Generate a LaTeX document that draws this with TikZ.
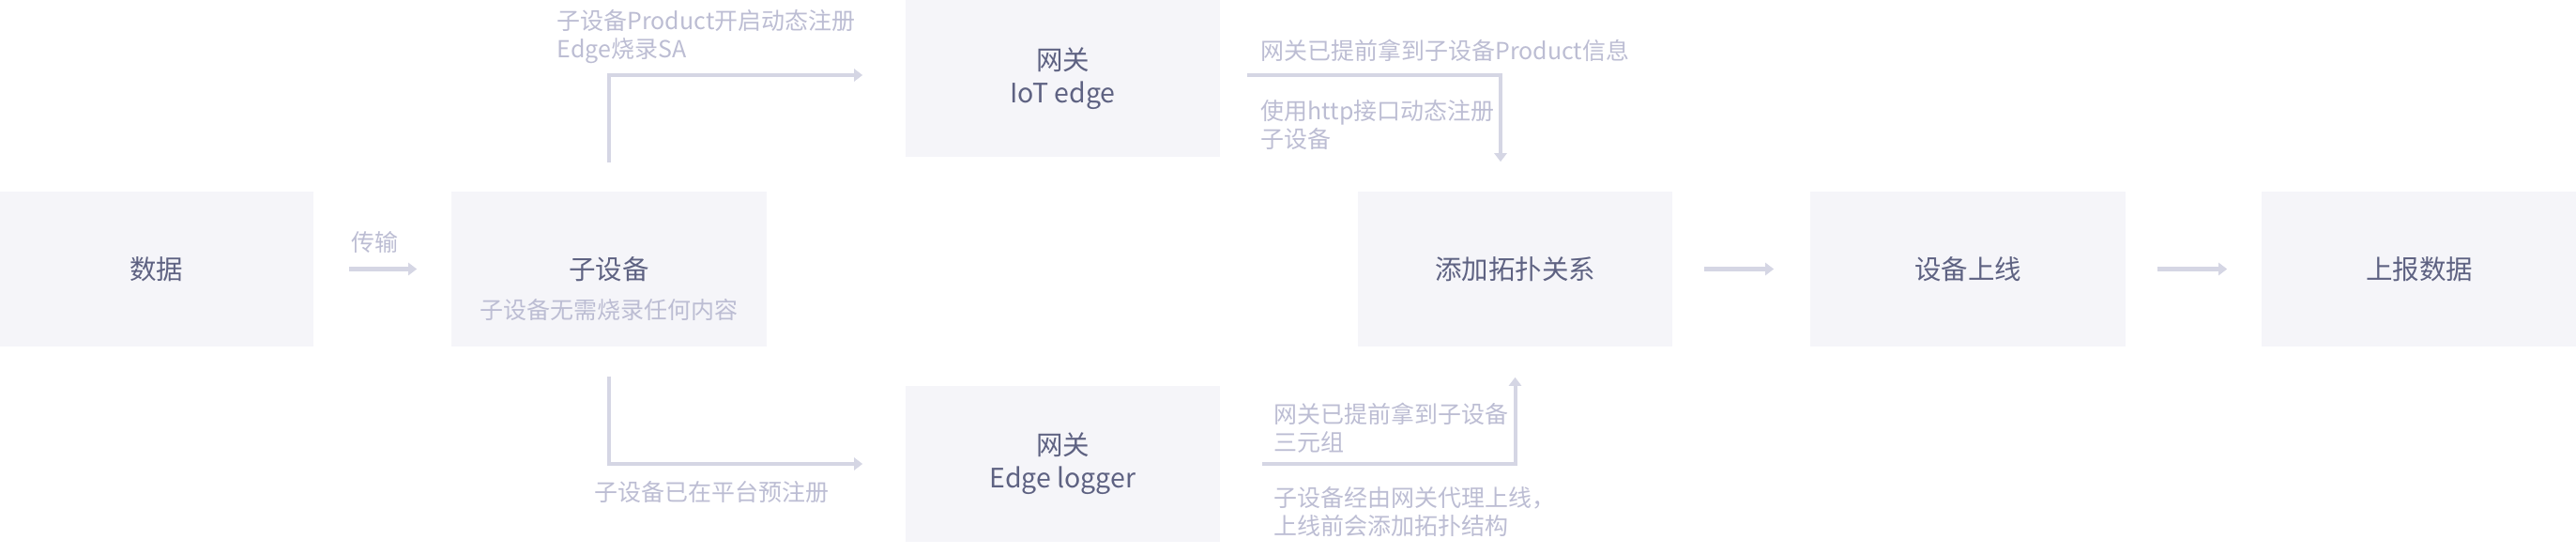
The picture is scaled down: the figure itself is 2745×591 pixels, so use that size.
\documentclass[tikz,border=0pt]{standalone}
\usepackage{fontspec}
\setmainfont{Noto Sans CJK SC}
\usepackage{xcolor}
\usepackage{tikz}
\usetikzlibrary{arrows.meta}
\definecolor{boxfill}{HTML}{F5F5F9}
\definecolor{boxtext}{HTML}{5E6282}
\definecolor{notetext}{HTML}{BCBDD3}
\definecolor{flowline}{HTML}{D5D6E4}

\begin{document}
\begin{tikzpicture}[x=0.01cm, y=-0.01cm,
		box/.style={rectangle, fill=boxfill, minimum width=3.35cm, minimum height=1.64cm, inner sep=0pt, align=center, text=boxtext, font=\fontsize{8.1pt}{10pt}\selectfont},
		note/.style={anchor=west, align=left, inner sep=0pt, text=notetext, font=\fontsize{7.1pt}{8.5pt}\selectfont},
		flow/.style={draw=flowline, line width=0.04cm, -{Triangle[length=0.09cm, width=0.13cm]}}]
			\useasboundingbox (0,0) rectangle (2745,591);
			% Boxes
			\node[box] (data) at (166.5,286.5) {数据};
			\node[box] (sub) at (649,286.5) {子设备};
			\node[box, minimum height=1.67cm] (iot) at (1132.5,83.5) {网关\\IoT edge};
			\node[box, minimum height=1.66cm] (logger) at (1132.5,494) {网关\\Edge logger};
			\node[box] (topo) at (1614.5,286.5) {添加拓扑关系};
			\node[box] (online) at (2097,286.5) {设备上线};
			\node[box] (report) at (2578,286.5) {上报数据};
			\node[note, anchor=center] (subnote) at (649,330) {子设备无需烧录任何内容};
			% Labels
			\node[note] (ltrans) at (374,258) {传输};
			\node[note] (lsa) at (593,39) {子设备Product开启动态注册\\Edge烧录SA};
			\node[note] (lpre) at (633,524) {子设备已在平台预注册};
			\node[note] (linfo) at (1343,54) {网关已提前拿到子设备Product信息};
			\node[note] (lhttp) at (1343,133) {使用http接口动态注册\\子设备};
			\node[note] (ltriple) at (1357,456) {网关已提前拿到子设备\\三元组};
			\node[note] (lproxy) at (1357,545) {子设备经由网关代理上线，\\上线前会添加拓扑结构};
			% Arrows
			\draw[flow, shorten <=0.37cm, shorten >=0.365cm] (data) -- (sub);
			\draw[flow, shorten <=0.31cm, shorten >=0.45cm] (sub.north) |- ([yshift=0.035cm]iot.west);
			\draw[flow, shorten <=0.315cm, shorten >=0.45cm] (sub.south) |- (logger.west);
			\draw[flow, shorten <=0.28cm, shorten >=0.315cm] ([yshift=0.035cm]iot.east) -| ([xshift=-0.155cm]topo.north);
			\draw[flow, shorten <=0.44cm, shorten >=0.325cm] (logger.east) -| (topo.south);
			\draw[flow, shorten <=0.33cm, shorten >=0.385cm] (topo) -- (online);
			\draw[flow, shorten <=0.335cm, shorten >=0.365cm] (online) -- (report);
		\end{tikzpicture}
\end{document}
